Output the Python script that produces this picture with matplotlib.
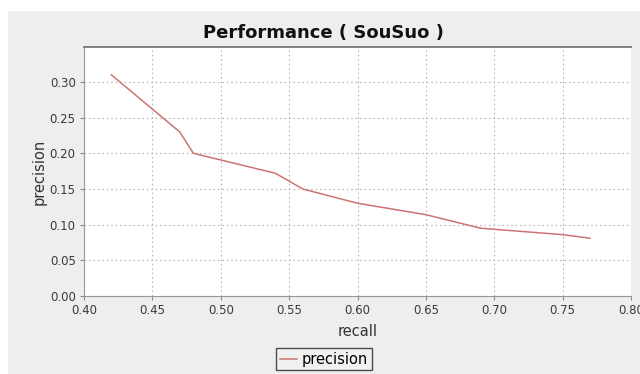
import matplotlib
matplotlib.use('Agg')
import matplotlib.pyplot as plt
from matplotlib.patches import Rectangle

recall = [0.42, 0.47, 0.48, 0.54, 0.56, 0.60, 0.65, 0.69, 0.75, 0.77]
precision = [0.31, 0.23, 0.20, 0.172, 0.15, 0.13, 0.114, 0.095, 0.086, 0.081]
x_ticks = [0.40, 0.45, 0.50, 0.55, 0.60, 0.65, 0.70, 0.75, 0.80]
y_ticks = [0.00, 0.05, 0.10, 0.15, 0.20, 0.25, 0.30]

W, H = 640, 374
fig = plt.figure(figsize=(6.4, 3.74), dpi=100, facecolor='white')

# grey panel behind the chart (screenshot has a thin white strip left/top)
fig.add_artist(Rectangle((8 / W, 0), 1 - 8 / W, (H - 11) / H,
                         transform=fig.transFigure, facecolor='#eeeeee',
                         edgecolor='none', zorder=-5))

ax = fig.add_axes([84 / W, (H - 296) / H, (631 - 84) / W, (296 - 47) / H])
ax.set_zorder(1)
ax.set_facecolor('white')

ax.plot(recall, precision, color='#cc7474', lw=1.1, label='precision')

ax.set_xlim(0.40, 0.80)
ax.set_ylim(0.0, 0.349)
ax.set_xticks(x_ticks)
ax.set_yticks(y_ticks)
ax.set_xticklabels(['%.2f' % v for v in x_ticks])
ax.set_yticklabels(['%.2f' % v for v in y_ticks])
ax.tick_params(labelsize=8.5, labelcolor='#3a3a3a', color='#888888',
               length=3, width=0.8, pad=3)

ax.grid(True, color='#b8b8b8', linestyle=(0, (1.5, 2.5)), lw=0.8)

for side in ['left', 'bottom']:
    ax.spines[side].set_color('#999999')
ax.spines['top'].set_color('#808080')
ax.spines['top'].set_linewidth(1.4)
ax.spines['right'].set_visible(False)

ax.set_xlabel('recall', fontsize=10.5, color='#333333', labelpad=5)
ax.set_ylabel('precision', fontsize=10.5, color='#333333', labelpad=2)

fig.text(323 / W, (H - 33) / H, 'Performance ( SouSuo )', ha='center', va='center',
         fontsize=13, fontweight='bold', color='#111111')

leg = fig.legend(loc='upper center', bbox_to_anchor=(324 / W, (H - 348) / H),
                 fontsize=10.5, frameon=True, fancybox=False, handlelength=1.2,
                 handletextpad=0.3, borderpad=0.25, borderaxespad=0)
leg.get_frame().set_edgecolor('#222222')
leg.get_frame().set_facecolor('#f2f2f2')
leg.get_frame().set_linewidth(1.0)

fig.savefig('out.png', dpi=100, facecolor=fig.get_facecolor())
